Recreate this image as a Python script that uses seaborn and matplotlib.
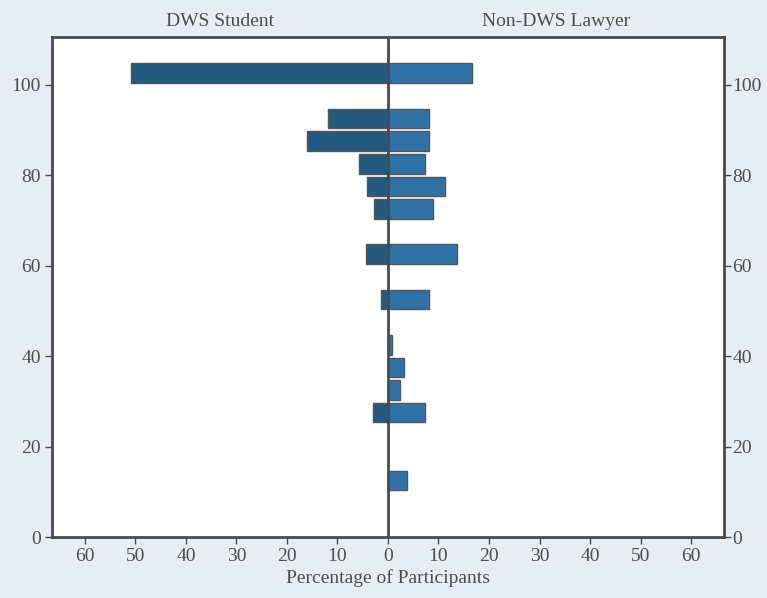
import numpy as np
import pandas as pd
import seaborn as sns
import matplotlib.pyplot as plt

# bin centres (5-unit bins) and percentages for each group
bins = [102.5, 92.5, 87.5, 82.5, 77.5, 72.5, 62.5, 52.5, 42.5, 37.5, 32.5, 27.5, 12.5]
dws_student = [50.8, 11.8, 16.1, 5.7, 4.2, 2.7, 4.4, 1.3, 0.0, 0.0, 0.0, 2.9, 0.0]
non_dws_lawyer = [16.6, 8.2, 8.2, 7.4, 11.3, 8.9, 13.7, 8.2, 0.8, 3.1, 2.3, 7.4, 3.7]
xticks = [-60, -50, -40, -30, -20, -10, 0, 10, 20, 30, 40, 50, 60]
yticks = [0, 20, 40, 60, 80, 100]

bg = '#e8ecf3'
frame = '#4a4a4a'
txt = '#4d4d4d'

sns.set_theme(style='white')
plt.rcParams['font.family'] = ['Liberation Serif', 'DejaVu Serif']

df = pd.DataFrame({'bin': bins, 'left': [-v for v in dws_student], 'right': non_dws_lawyer})
dl = df[df['left'] != 0]

fig = plt.figure(figsize=(7.67, 5.98), dpi=100, facecolor=bg)
ax = fig.add_axes([0.0678, 0.102, 0.876, 0.836])
ax.set_facecolor('white')

sns.barplot(data=dl, x='left', y='bin', orient='h', native_scale=True, width=0.87,
            color='#245a80', saturation=1, edgecolor='#555555', linewidth=1, ax=ax)
sns.barplot(data=df, x='right', y='bin', orient='h', native_scale=True, width=0.87,
            color='#2f72a8', saturation=1, edgecolor='#555555', linewidth=1, ax=ax)

ax.axvline(0, color=frame, lw=2, zorder=5)
ax.set_xlim(-66.5, 66.5)
ax.set_ylim(0, 110.5)
ax.set_xticks(xticks)
ax.set_xticklabels([str(abs(t)) for t in xticks])
ax.set_yticks(yticks)
ax.set_ylabel('')
ax.set_xlabel('Percentage of Participants', fontsize=14, color=txt, labelpad=3)
ax.tick_params(axis='both', direction='out', length=5, width=1, color=frame,
               labelcolor=txt, labelsize=14, left=True, bottom=True, pad=3)
for s in ax.spines.values():
    s.set_color(frame)
    s.set_linewidth(2)

ax2 = ax.twinx()
ax2.set_ylim(ax.get_ylim())
ax2.set_yticks(yticks)
ax2.tick_params(axis='y', direction='out', length=5, width=1, color=frame,
                labelcolor=txt, labelsize=14, right=True, pad=1)
for s in ax2.spines.values():
    s.set_visible(False)

ax.text(-33.25, 1.014, 'DWS Student', transform=ax.get_xaxis_transform(),
        ha='center', va='bottom', fontsize=14, color=txt)
ax.text(33.25, 1.014, 'Non-DWS Lawyer', transform=ax.get_xaxis_transform(),
        ha='center', va='bottom', fontsize=14, color=txt)

fig.savefig('out.png', dpi=100, facecolor=bg)
